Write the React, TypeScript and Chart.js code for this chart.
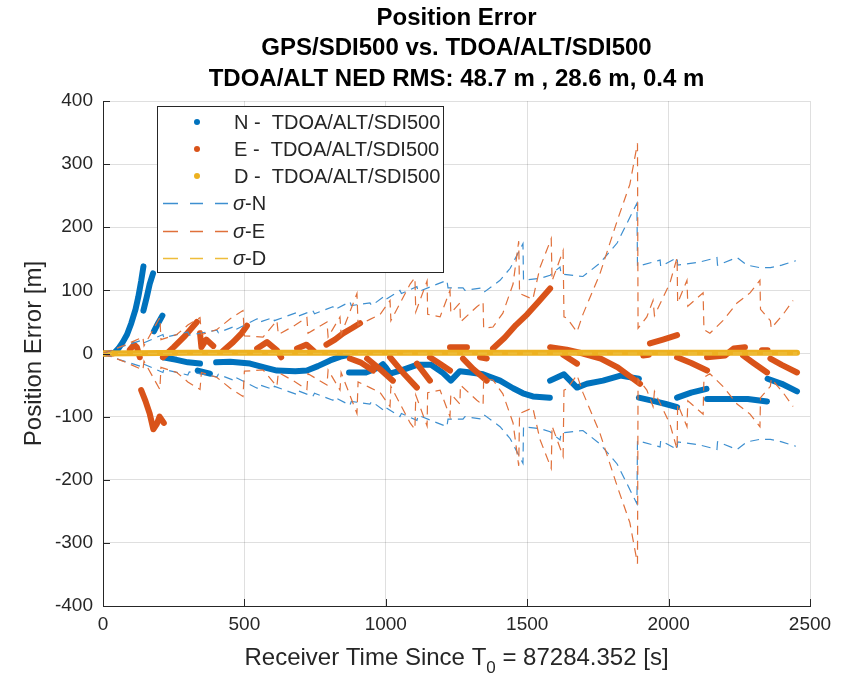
import React, { useEffect, useRef } from "react";
import { Chart, registerables } from "chart.js";
Chart.register(...registerables);

const FONT = "'Liberation Sans', Arial, Helvetica, sans-serif";

const titleLines = [
  "Position Error",
  "GPS/SDI500 vs. TDOA/ALT/SDI500",
  "TDOA/ALT NED RMS: 48.7 m , 28.6 m, 0.4 m",
];
const xLabelMain = "Receiver Time Since T";
const xLabelSub = "0";
const xLabelTail = " = 87284.352 [s]";
const yLabel = "Position Error [m]";
const legendLabels = ["N -  TDOA/ALT/SDI500", "E -  TDOA/ALT/SDI500", "D -  TDOA/ALT/SDI500", "N", "E", "D"];

const xMin = 0, xMax = 2500, xStep = 500;
const yMin = -400, yMax = 400, yStep = 100;

type P = [number, number | null];

// N error (time [s], error [m]); null = gap
const nSeries: P[] = [
  [0, 0], [20, 0], [40, 1], [55, 8], [70, 18], [85, 30], [100, 48], [115, 70], [125, 90], [135, 115], [143, 138], [143, null],
  [143, 68], [155, 90], [165, 110], [177, 127], [177, null],
  [180, 35], [195, 48], [210, 60], [210, null],
  [212, -6], [260, -10], [300, -14], [343, -16], [343, null],
  [335, -27], [378, -32], [378, null],
  [400, -14], [450, -13], [520, -16], [570, -22], [615, -27], [680, -28], [721, -27], [760, -20], [803, -11], [840, -5], [862, -3], [862, null],
  [870, -30], [930, -30], [975, -22], [990, -17], [1000, -22], [1015, -32], [1060, -26], [1110, -18], [1160, -18], [1200, -30], [1230, -43], [1262, -28], [1300, -30], [1344, -33], [1404, -43], [1450, -55], [1485, -63], [1520, -68], [1580, -70], [1580, null],
  [1581, -43], [1630, -33], [1676, -54], [1711, -48], [1768, -43], [1830, -35], [1895, -40], [1895, null],
  [1895, -70], [1945, -75], [1990, -80], [2030, -85], [2030, null],
  [2030, -70], [2080, -62], [2134, -56], [2134, null],
  [2136, -72], [2200, -72], [2280, -72], [2348, -76], [2348, null],
  [2350, -40], [2400, -48], [2454, -60],
];

// E error
const eSeries: P[] = [
  [0, 0], [35, 0], [35, null],
  [95, 6], [110, 14], [120, 10], [130, -6], [130, null],
  [135, -58], [150, -75], [165, -95], [178, -120], [190, -112], [200, -100], [215, -110], [215, null],
  [212, -6], [250, 10], [290, 28], [332, 50], [332, null],
  [343, 32], [348, 10], [365, 22], [390, 12], [390, null],
  [424, 4], [460, 18], [490, 32], [509, 44], [509, null],
  [545, 8], [580, 18], [615, 5], [630, -6], [630, null],
  [686, 8], [720, 14], [745, 4], [745, null],
  [790, 14], [820, 22], [849, 32], [880, 40], [909, 48], [909, null],
  [873, -8], [910, -14], [955, -27], [955, null],
  [934, -8], [980, -25], [1025, -43], [1025, null],
  [1015, -6], [1060, -30], [1110, -54], [1110, null],
  [1110, -16], [1156, -43], [1156, null],
  [1156, -6], [1190, -16], [1227, -27], [1227, null],
  [1227, 10], [1287, 10], [1287, null],
  [1273, -8], [1310, -25], [1357, -43], [1357, null],
  [1333, -6], [1357, -8], [1357, null],
  [1379, 8], [1420, 25], [1460, 45], [1500, 62], [1540, 82], [1581, 103], [1581, null],
  [1581, 10], [1640, 6], [1697, 0], [1697, null],
  [1627, -2], [1676, -16], [1676, null],
  [1697, 0], [1760, -8], [1820, -22], [1899, -48], [1899, null],
  [1910, -3], [1930, -2], [1930, null],
  [1934, 16], [1980, 22], [2030, 29], [2030, null],
  [2030, -6], [2080, -15], [2136, -27], [2136, null],
  [2136, -6], [2200, -3], [2230, 8], [2270, 10], [2270, null],
  [2263, -3], [2300, -15], [2348, -30], [2348, null],
  [2330, 5], [2350, 5], [2350, null],
  [2360, -8], [2400, -18], [2454, -30],
];

// D error
const dSeries: P[] = [
  [0, 0], [300, 1], [700, 1], [1100, 1], [1500, 1], [1900, 1], [2300, 1], [2454, 1],
];

// sigma N (upper / lower)
const sigNUpper: P[] = [
  [0, 0], [60, 10], [131, 20], [135, 15], [212, 30], [215, 25], [300, 34], [305, 29], [403, 37], [408, 33], [460, 42], [465, 37],
  [545, 55], [550, 49], [601, 57], [606, 52], [686, 65], [690, 59], [742, 68], [748, 63], [813, 74], [818, 69], [873, 82], [878, 76],
  [944, 80], [950, 76], [990, 89], [995, 84], [1050, 100], [1055, 95], [1110, 106], [1115, 98], [1216, 116], [1220, 104],
  [1273, 104], [1280, 100], [1344, 104], [1350, 98], [1404, 116], [1440, 135], [1485, 174], [1487, 116], [1545, 119], [1581, 124],
  [1616, 137], [1620, 126], [1697, 122], [1757, 143], [1818, 175], [1888, 238], [1890, 138], [1970, 148], [1972, 138], [2030, 152],
  [2032, 140], [2111, 145], [2171, 152], [2173, 140], [2242, 152], [2277, 140], [2323, 136], [2360, 136], [2400, 140], [2450, 147],
];
const sigNLower: P[] = [
  [0, 0], [60, -10], [131, -20], [135, -15], [212, -30], [215, -25], [300, -34], [305, -29], [403, -37], [408, -33], [460, -42], [465, -37],
  [545, -55], [550, -49], [601, -57], [606, -52], [686, -65], [690, -59], [742, -68], [748, -63], [813, -74], [818, -69], [873, -82], [878, -76],
  [944, -80], [950, -76], [990, -89], [995, -84], [1050, -100], [1055, -95], [1110, -106], [1115, -98], [1216, -116], [1220, -104],
  [1273, -104], [1280, -100], [1344, -104], [1350, -98], [1404, -116], [1440, -135], [1485, -174], [1487, -116], [1545, -119], [1581, -124],
  [1616, -137], [1620, -126], [1697, -122], [1757, -143], [1818, -175], [1888, -238], [1890, -138], [1970, -148], [1972, -138], [2030, -152],
  [2032, -140], [2111, -145], [2171, -152], [2173, -140], [2242, -152], [2277, -140], [2323, -136], [2360, -136], [2400, -140], [2450, -147],
];

// sigma E (upper / lower)
const sigEUpper: P[] = [
  [0, 0], [70, 12], [141, 26], [145, 12], [201, 57], [205, 22], [261, 30], [300, 45], [343, 57], [348, 30], [403, 38], [450, 55],
  [495, 68], [500, 28], [566, 26], [615, 52], [620, 30], [680, 45], [721, 57], [725, 32], [792, 50], [796, 26], [838, 58], [842, 30],
  [898, 95], [902, 45], [944, 54], [980, 62], [1015, 84], [1018, 52], [1086, 110], [1103, 120], [1106, 66], [1146, 115], [1148, 62],
  [1192, 58], [1227, 100], [1230, 64], [1262, 80], [1264, 50], [1322, 74], [1344, 82], [1346, 40], [1379, 42], [1414, 64], [1450, 110],
  [1470, 178], [1473, 95], [1520, 86], [1545, 136], [1585, 182], [1588, 115], [1627, 163], [1630, 58], [1641, 56], [1676, 34],
  [1697, 62], [1757, 126], [1818, 210], [1863, 268], [1890, 333], [1892, 40], [1923, 58], [1945, 84], [1950, 60], [2005, 112],
  [2030, 152], [2032, 80], [2065, 116], [2068, 75], [2122, 96], [2125, 38], [2146, 32], [2192, 52], [2242, 80], [2288, 96],
  [2323, 116], [2325, 70], [2360, 52], [2363, 40], [2405, 62], [2440, 84],
];
const sigELower: P[] = [
  [0, 0], [70, -12], [141, -26], [145, -12], [201, -57], [205, -22], [261, -30], [300, -45], [343, -57], [348, -30], [403, -38], [450, -55],
  [495, -68], [500, -28], [566, -26], [615, -52], [620, -30], [680, -45], [721, -57], [725, -32], [792, -50], [796, -26], [838, -58], [842, -30],
  [898, -95], [902, -45], [944, -54], [980, -62], [1015, -84], [1018, -52], [1086, -110], [1103, -120], [1106, -66], [1146, -115], [1148, -62],
  [1192, -58], [1227, -100], [1230, -64], [1262, -80], [1264, -50], [1322, -74], [1344, -82], [1346, -40], [1379, -42], [1414, -64], [1450, -110],
  [1470, -178], [1473, -95], [1520, -86], [1545, -136], [1585, -182], [1588, -115], [1627, -163], [1630, -58], [1641, -56], [1676, -34],
  [1697, -62], [1757, -126], [1818, -210], [1863, -268], [1890, -333], [1892, -40], [1923, -58], [1945, -84], [1950, -60], [2005, -112],
  [2030, -152], [2032, -80], [2065, -116], [2068, -75], [2122, -96], [2125, -38], [2146, -32], [2192, -52], [2242, -80], [2288, -96],
  [2323, -116], [2325, -70], [2360, -52], [2363, -40], [2405, -62], [2440, -84],
];

// sigma D
const sigDUpper: P[] = [[0, 0], [2454, 1]];
const sigDLower: P[] = [[0, 0], [2454, -1]];

const C_N = "#0072BD";
const C_E = "#D95319";
const C_D = "#EDB120";
const C_SN = "#3d8fd0";
const C_SE = "#e0703a";
const C_SD = "#eebd3a";
const TXT = "#262626";

const pts = (a: P[]) => a.map(([x, y]) => ({ x, y }));

const decorPlugin = {
  id: "decor",
  afterDraw(chart: any) {
    const ctx = chart.ctx as CanvasRenderingContext2D;
    const { left, right, top, bottom } = chart.chartArea;
    const xs = chart.scales.x;
    const ys = chart.scales.y;
    ctx.save();
    // inward ticks
    ctx.strokeStyle = TXT;
    ctx.lineWidth = 1;
    ctx.beginPath();
    for (let v = xMin; v <= xMax; v += xStep) {
      const px = Math.round(xs.getPixelForValue(v)) + 0.5;
      ctx.moveTo(px, bottom);
      ctx.lineTo(px, bottom - 7);
    }
    for (let v = yMin; v <= yMax; v += yStep) {
      const py = Math.round(ys.getPixelForValue(v)) + 0.5;
      ctx.moveTo(left, py);
      ctx.lineTo(left + 7, py);
    }
    ctx.stroke();

    // title
    ctx.fillStyle = "#000";
    ctx.textAlign = "center";
    ctx.textBaseline = "middle";
    ctx.font = `bold 24px ${FONT}`;
    const cx = (left + right) / 2;
    const tys = [18, 48, 79];
    titleLines.forEach((t, i) => ctx.fillText(t, cx, tys[i]));

    // x label with subscript
    ctx.fillStyle = TXT;
    ctx.textBaseline = "alphabetic";
    ctx.textAlign = "left";
    const fMain = `24px ${FONT}`;
    const fSub = `17px ${FONT}`;
    ctx.font = fMain;
    const w1 = ctx.measureText(xLabelMain).width;
    const w3 = ctx.measureText(xLabelTail).width;
    ctx.font = fSub;
    const w2 = ctx.measureText(xLabelSub).width;
    const total = w1 + w2 + w3;
    const x0 = cx - total / 2;
    const by = 665;
    ctx.font = fMain;
    ctx.fillText(xLabelMain, x0, by);
    ctx.font = fSub;
    ctx.fillText(xLabelSub, x0 + w1, by + 8);
    ctx.font = fMain;
    ctx.fillText(xLabelTail, x0 + w1 + w2, by);

    // y label
    ctx.save();
    ctx.translate(34, (top + bottom) / 2);
    ctx.rotate(-Math.PI / 2);
    ctx.textAlign = "center";
    ctx.textBaseline = "middle";
    ctx.font = `24px ${FONT}`;
    ctx.fillText(yLabel, 0, 0);
    ctx.restore();

    // legend
    const bx = 157.5, bY = 106.5, bw = 286, bh = 166;
    ctx.fillStyle = "#fff";
    ctx.fillRect(bx, bY, bw, bh);
    ctx.strokeStyle = TXT;
    ctx.lineWidth = 1;
    ctx.setLineDash([]);
    ctx.strokeRect(bx, bY, bw, bh);
    const rows = [122, 149, 176, 203, 231, 258];
    const dotColors = [C_N, C_E, C_D];
    const lineColors = [C_SN, C_SE, C_SD];
    ctx.font = `20px ${FONT}`;
    ctx.textBaseline = "middle";
    ctx.textAlign = "left";
    for (let i = 0; i < 3; i++) {
      ctx.fillStyle = dotColors[i];
      ctx.beginPath();
      ctx.arc(197, rows[i], 3, 0, Math.PI * 2);
      ctx.fill();
      ctx.fillStyle = TXT;
      ctx.fillText(legendLabels[i], 234, rows[i] + 1);
    }
    for (let i = 0; i < 3; i++) {
      const y = rows[3 + i] + 0.5;
      ctx.strokeStyle = lineColors[i];
      ctx.lineWidth = 1.3;
      ctx.beginPath();
      [[163, 178], [190, 203], [215, 228]].forEach(([a, b]) => {
        ctx.moveTo(a, y);
        ctx.lineTo(b, y);
      });
      ctx.stroke();
      ctx.fillStyle = TXT;
      ctx.font = `italic 20px ${FONT}`;
      ctx.fillText("\u03c3", 233, rows[3 + i] + 1);
      const sw = ctx.measureText("\u03c3").width;
      ctx.font = `20px ${FONT}`;
      ctx.fillText("-" + legendLabels[3 + i], 233 + sw, rows[3 + i] + 1);
    }
    ctx.restore();
  },
};

export default function App() {
  const ref = useRef<HTMLCanvasElement>(null);
  useEffect(() => {
    if (!ref.current) return;
    Chart.defaults.font.family = FONT;
    const thick = (data: P[], color: string, order: number) => ({
      data: pts(data),
      borderColor: color,
      backgroundColor: color,
      borderWidth: 6,
      borderCapStyle: "round" as const,
      borderJoinStyle: "round" as const,
      pointRadius: 0,
      spanGaps: false,
      order,
    });
    const dashed = (data: P[], color: string, order: number) => ({
      data: pts(data),
      borderColor: color,
      backgroundColor: color,
      borderWidth: 1.2,
      borderDash: [9, 6],
      pointRadius: 0,
      spanGaps: false,
      order,
    });
    const chart = new Chart(ref.current, {
      type: "line",
      data: {
        datasets: [
          thick(nSeries, C_N, 10),
          thick(eSeries, C_E, 9),
          thick(dSeries, C_D, 8),
          dashed(sigNUpper, C_SN, 7),
          dashed(sigNLower, C_SN, 6),
          dashed(sigEUpper, C_SE, 5),
          dashed(sigELower, C_SE, 4),
          dashed(sigDUpper, C_SD, 3),
          dashed(sigDLower, C_SD, 2),
        ] as any,
      },
      options: {
        responsive: false,
        animation: false,
        events: [],
        layout: { padding: { left: 43, top: 101, right: 36, bottom: 33 } },
        plugins: { legend: { display: false }, title: { display: false }, tooltip: { enabled: false } },
        scales: {
          x: {
            type: "linear",
            min: xMin,
            max: xMax,
            afterFit: (s: any) => { s.height = 40; },
            ticks: {
              stepSize: xStep,
              color: TXT,
              font: { size: 19, family: FONT },
              padding: 7,
              maxRotation: 0,
              callback: (v: any) => String(v),
            },
            grid: { color: "rgba(38,38,38,0.15)", lineWidth: 1, drawTicks: false },
            border: { display: true, color: TXT, width: 1 },
          },
          y: {
            type: "linear",
            min: yMin,
            max: yMax,
            afterFit: (s: any) => { s.width = 60; },
            ticks: {
              stepSize: yStep,
              color: TXT,
              font: { size: 19, family: FONT },
              padding: 10,
              callback: (v: any) => String(v),
            },
            grid: { color: "rgba(38,38,38,0.15)", lineWidth: 1, drawTicks: false },
            border: { display: true, color: TXT, width: 1 },
          },
        },
      },
      plugins: [decorPlugin],
    });
    return () => chart.destroy();
  }, []);
  return (
    <div style={{ position: "absolute", left: 0, top: 0, width: 846, height: 679, background: "#fff" }}>
      <canvas ref={ref} width={846} height={679} style={{ width: 846, height: 679 }} />
    </div>
  );
}
